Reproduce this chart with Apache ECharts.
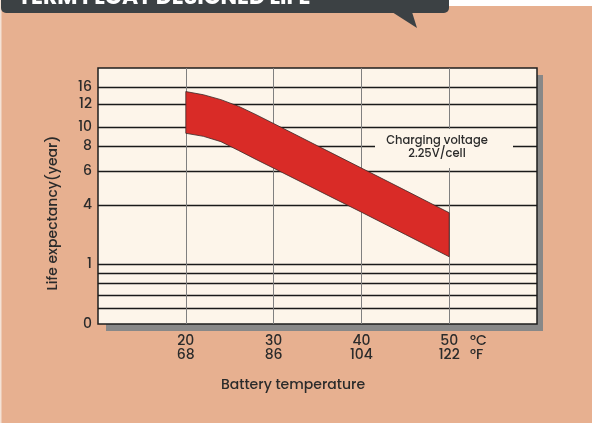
<!DOCTYPE html>
<html>
<head>
<meta charset="utf-8">
<script src="https://cdn.jsdelivr.net/npm/echarts@6/dist/echarts.min.js"></script>
<style>
  html, body { margin: 0; padding: 0; background: #E7B090; }
  #life_chart { width: 592px; height: 423px; }
</style>
</head>
<body>
<div id="life_chart"></div>
<script>
// battery temperature (°C) and the matching °F labels
const tempC = [20, 30, 40, 50];
const tempF = [68, 86, 104, 122];

// band edges (years)
const temps = [20, 22, 24, 26, 28, 30, 35, 40, 45, 50];
const upperLife = [15.0, 14.25, 13.1, 11.83, 11.1, 10.33, 8.05, 6.26, 4.88, 3.62];
const lowerLife = [9.37, 9.05, 8.49, 7.67, 6.95, 6.25, 4.89, 3.65, 2.51, 1.37];

// the y axis is not linear: labelled ticks and where they sit on the axis
const yTickValues = [0, 1, 4, 6, 8, 10, 12, 16];
const yTickLevels = [0, 60, 118.7, 152.7, 177.7, 196.7, 219.7, 236.7];
const yMinorLines = [0.26, 0.48, 0.68, 0.845]; // unlabelled lines below 1

function toLevel(v) {
    for (let i = 1; i < yTickValues.length; i++) {
        if (v <= yTickValues[i]) {
            const a = yTickValues[i - 1], b = yTickValues[i];
            const la = yTickLevels[i - 1], lb = yTickLevels[i];
            return la + (v - a) / (b - a) * (lb - la);
        }
    }
    return yTickLevels[yTickLevels.length - 1];
}

function labelFor(level) {
    for (let i = 0; i < yTickLevels.length; i++) {
        if (Math.abs(yTickLevels[i] - level) < 0.01) return String(yTickValues[i]);
    }
    return '';
}

const font = 'Poppins, "Noto Sans", sans-serif';
const textColor = '#2b2b2b';
const gridLevels = yMinorLines.map(toLevel).concat(yTickLevels.slice(1));

const myChart = echarts.init(document.getElementById('life_chart'));

const option = {
    backgroundColor: '#E7B090',
    animation: false,
    grid: {
        left: 98, top: 68, width: 439, height: 256,
        show: true,
        backgroundColor: '#FDF5EA',
        borderColor: '#1e1e1e',
        borderWidth: 1.5
    },
    xAxis: {
        type: 'value', min: 10, max: 60, interval: 10,
        axisLine: { show: false },
        axisTick: { show: false },
        splitLine: {
            show: true, showMinLine: false, showMaxLine: false,
            lineStyle: { color: '#808080', width: 1 }
        },
        axisLabel: {
            margin: 10,
            fontFamily: font, fontSize: 14, lineHeight: 14, color: textColor, fontWeight: 500,
            formatter: v => {
                const i = tempC.indexOf(v);
                return i < 0 ? '' : tempC[i] + '\n' + tempF[i];
            }
        }
    },
    yAxis: {
        type: 'value', min: 0, max: 256,
        axisLine: { show: false },
        axisTick: { show: false, customValues: gridLevels },
        splitLine: { show: true, lineStyle: { color: '#1a1a1a', width: 1.4 } },
        axisLabel: {
            customValues: yTickLevels,
            margin: 6,
            fontFamily: font, fontSize: 14, color: textColor, fontWeight: 500,
            formatter: v => labelFor(v)
        }
    },
    series: [{
        type: 'custom',
        data: [[temps[0], toLevel(upperLife[0])]],
        z: 3,
        renderItem: (params, api) => {
            const pts = [];
            temps.forEach((t, i) => pts.push(api.coord([t, toLevel(upperLife[i])])));
            for (let i = temps.length - 1; i >= 0; i--) {
                pts.push(api.coord([temps[i], toLevel(lowerLife[i])]));
            }
            return {
                type: 'polygon',
                shape: { points: pts },
                style: { fill: '#D92B27', stroke: '#3a2a28', lineWidth: 0.8 }
            };
        }
    }],
    graphic: [
        // drop shadow behind the plot
        { type: 'rect', z: -1, shape: { x: 106, y: 75, width: 437, height: 256 }, style: { fill: '#888888' } },
        // header tab, cut off at the top
        { type: 'rect', z: 1, shape: { x: 449, y: 0, width: 143, height: 6 }, style: { fill: '#ffffff' } },
        { type: 'rect', z: 1, shape: { x: 0, y: 0, width: 1.5, height: 423 }, style: { fill: '#f4e2d6' } },
        { type: 'rect', z: 2, shape: { x: 1, y: -10, width: 448, height: 23, r: 5 }, style: { fill: '#3C4144' } },
        { type: 'polygon', z: 2, shape: { points: [[392, 12], [412, 12], [417, 28]] }, style: { fill: '#3C4144' } },
        {
            type: 'text', z: 3, x: 18, y: 9.5,
            style: { text: 'TERM FLOAT DESIGNED LIFE', fill: '#ffffff', font: 'bold 22px ' + font, verticalAlign: 'bottom' }
        },
        // note inside the plot
        { type: 'rect', z: 5, shape: { x: 375, y: 129, width: 138, height: 39 }, style: { fill: '#FDF5EA' } },
        {
            type: 'text', z: 6, x: 437, y: 148,
            style: {
                text: 'Charging voltage\n2.25V/cell', fill: textColor, font: '500 11.5px ' + font,
                align: 'center', verticalAlign: 'middle', lineHeight: 13
            }
        },
        // unit labels after the 50 tick
        { type: 'text', z: 5, x: 470, y: 341, style: { text: '°C', fill: textColor, font: '500 14px ' + font, verticalAlign: 'middle' } },
        { type: 'text', z: 5, x: 470, y: 355, style: { text: '°F', fill: textColor, font: '500 14px ' + font, verticalAlign: 'middle' } },
        // axis titles
        {
            type: 'text', z: 5, x: 293, y: 385,
            style: { text: 'Battery temperature', fill: textColor, font: '500 14px ' + font, align: 'center', verticalAlign: 'middle' }
        },
        {
            type: 'text', z: 5, x: 53, y: 213, rotation: Math.PI / 2,
            style: { text: 'Life expectancy(year)', fill: textColor, font: '500 14px ' + font, align: 'center', verticalAlign: 'middle' }
        }
    ]
};

myChart.setOption(option);
</script>
</body>
</html>
